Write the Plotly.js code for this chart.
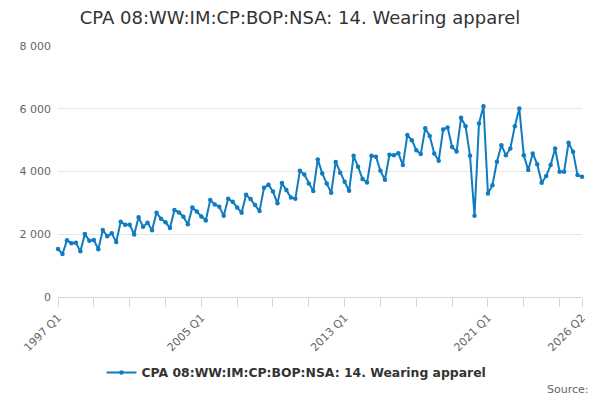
<!DOCTYPE html>
<html>
<head>
<meta charset="utf-8">
<script src="https://cdn.plot.ly/plotly-3.0.1.min.js"></script>
<style>
  html, body { margin: 0; padding: 0; background: #fff; }
  #chart { width: 600px; height: 400px; }
</style>
</head>
<body>
<div id="chart"></div>
<script>
// quarterly series, 1997 Q1 .. 2026 Q2
const firstYear = 1997;
const values = [
  1530, 1370, 1805, 1710, 1730, 1455, 2005, 1795, 1815, 1520,
  2135, 1940, 2030, 1750, 2400, 2300, 2300, 1995, 2540, 2240,
  2365, 2125, 2685, 2495, 2380, 2200, 2770, 2695, 2560, 2315,
  2855, 2725, 2565, 2440, 3090, 2950, 2880, 2590, 3130, 3035,
  2855, 2685, 3260, 3120, 2930, 2740, 3480, 3580, 3365, 2985,
  3630, 3410, 3175, 3130, 4020, 3905, 3620, 3375, 4385, 3940,
  3620, 3320, 4305, 3960, 3670, 3385, 4500, 4150, 3760, 3650,
  4500, 4470, 4020, 3735, 4535, 4520, 4585, 4205, 5160, 5000,
  4680, 4555, 5380, 5135, 4575, 4340, 5340, 5405, 4780, 4640,
  5710, 5445, 4500, 2590, 5530, 6080, 3300, 3565, 4310, 4840,
  4520, 4735, 5445, 6010, 4520, 4045, 4575, 4235, 3640, 3855,
  4205, 4735, 3990, 3990, 4915, 4630, 3885, 3830
];
const labelledTicks = ['1997 Q1', '2005 Q1', '2013 Q1', '2021 Q1', '2026 Q2'];
const seriesName = 'CPA 08:WW:IM:CP:BOP:NSA: 14. Wearing apparel';

const quarters = values.map((v, i) =>
  (firstYear + Math.floor(i / 4)) + ' Q' + (i % 4 + 1));

// tick marks every two years plus the last quarter, labels only on some
const tickvals = quarters.filter((q, i) => i % 8 === 0 || i === quarters.length - 1);
const ticktext = tickvals.map(q => labelledTicks.includes(q) ? q : '');

const trace = {
  type: 'scatter',
  mode: 'lines+markers',
  name: seriesName,
  x: quarters,
  y: values,
  line: { color: '#0f7bc1', width: 2 },
  marker: { color: '#0f7bc1', size: 4.5 },
  cliponaxis: false
};

const layout = {
  width: 600,
  height: 400,
  margin: { l: 58, r: 18, t: 46, b: 103 },
  paper_bgcolor: '#ffffff',
  plot_bgcolor: '#ffffff',
  font: { family: 'DejaVu Sans, sans-serif', color: '#666666', size: 11 },
  separators: ', ',
  title: {
    text: seriesName,
    font: { family: 'DejaVu Sans, sans-serif', size: 18, color: '#333333' },
    x: 0.5, xanchor: 'center', y: 0.955, yanchor: 'middle'
  },
  xaxis: {
    type: 'category',
    range: [0, values.length - 1],
    tickmode: 'array',
    tickvals: tickvals,
    ticktext: ticktext,
    tickangle: -45,
    ticks: 'outside',
    ticklen: 9,
    tickcolor: '#ccd6eb',
    showline: true,
    linecolor: '#ccd6eb',
    linewidth: 1,
    showgrid: false,
    zeroline: false,
    tickfont: { size: 11, color: '#666666' }
  },
  yaxis: {
    range: [0, 8000],
    tickvals: [0, 2000, 4000, 6000, 8000],
    separatethousands: true,
    showgrid: true,
    gridcolor: '#e6e6e6',
    zeroline: false,
    showline: false,
    ticks: '',
    ticklabelstandoff: 6,
    tickfont: { size: 11, color: '#666666' }
  },
  showlegend: true,
  legend: {
    orientation: 'h',
    x: 0.083, xanchor: 'left',
    y: -0.303, yanchor: 'middle',
    itemwidth: 30,
    font: { family: 'DejaVu Sans, sans-serif', size: 12.4, color: '#333333', weight: 'bold' }
  },
  annotations: [{
    text: 'Source:',
    xref: 'paper', yref: 'paper',
    x: 1.017, xanchor: 'right',
    y: -0.37, yanchor: 'middle',
    showarrow: false,
    font: { size: 11, color: '#666666' }
  }]
};

Plotly.newPlot('chart', [trace], layout, { displayModeBar: false, staticPlot: true });
</script>
</body>
</html>
